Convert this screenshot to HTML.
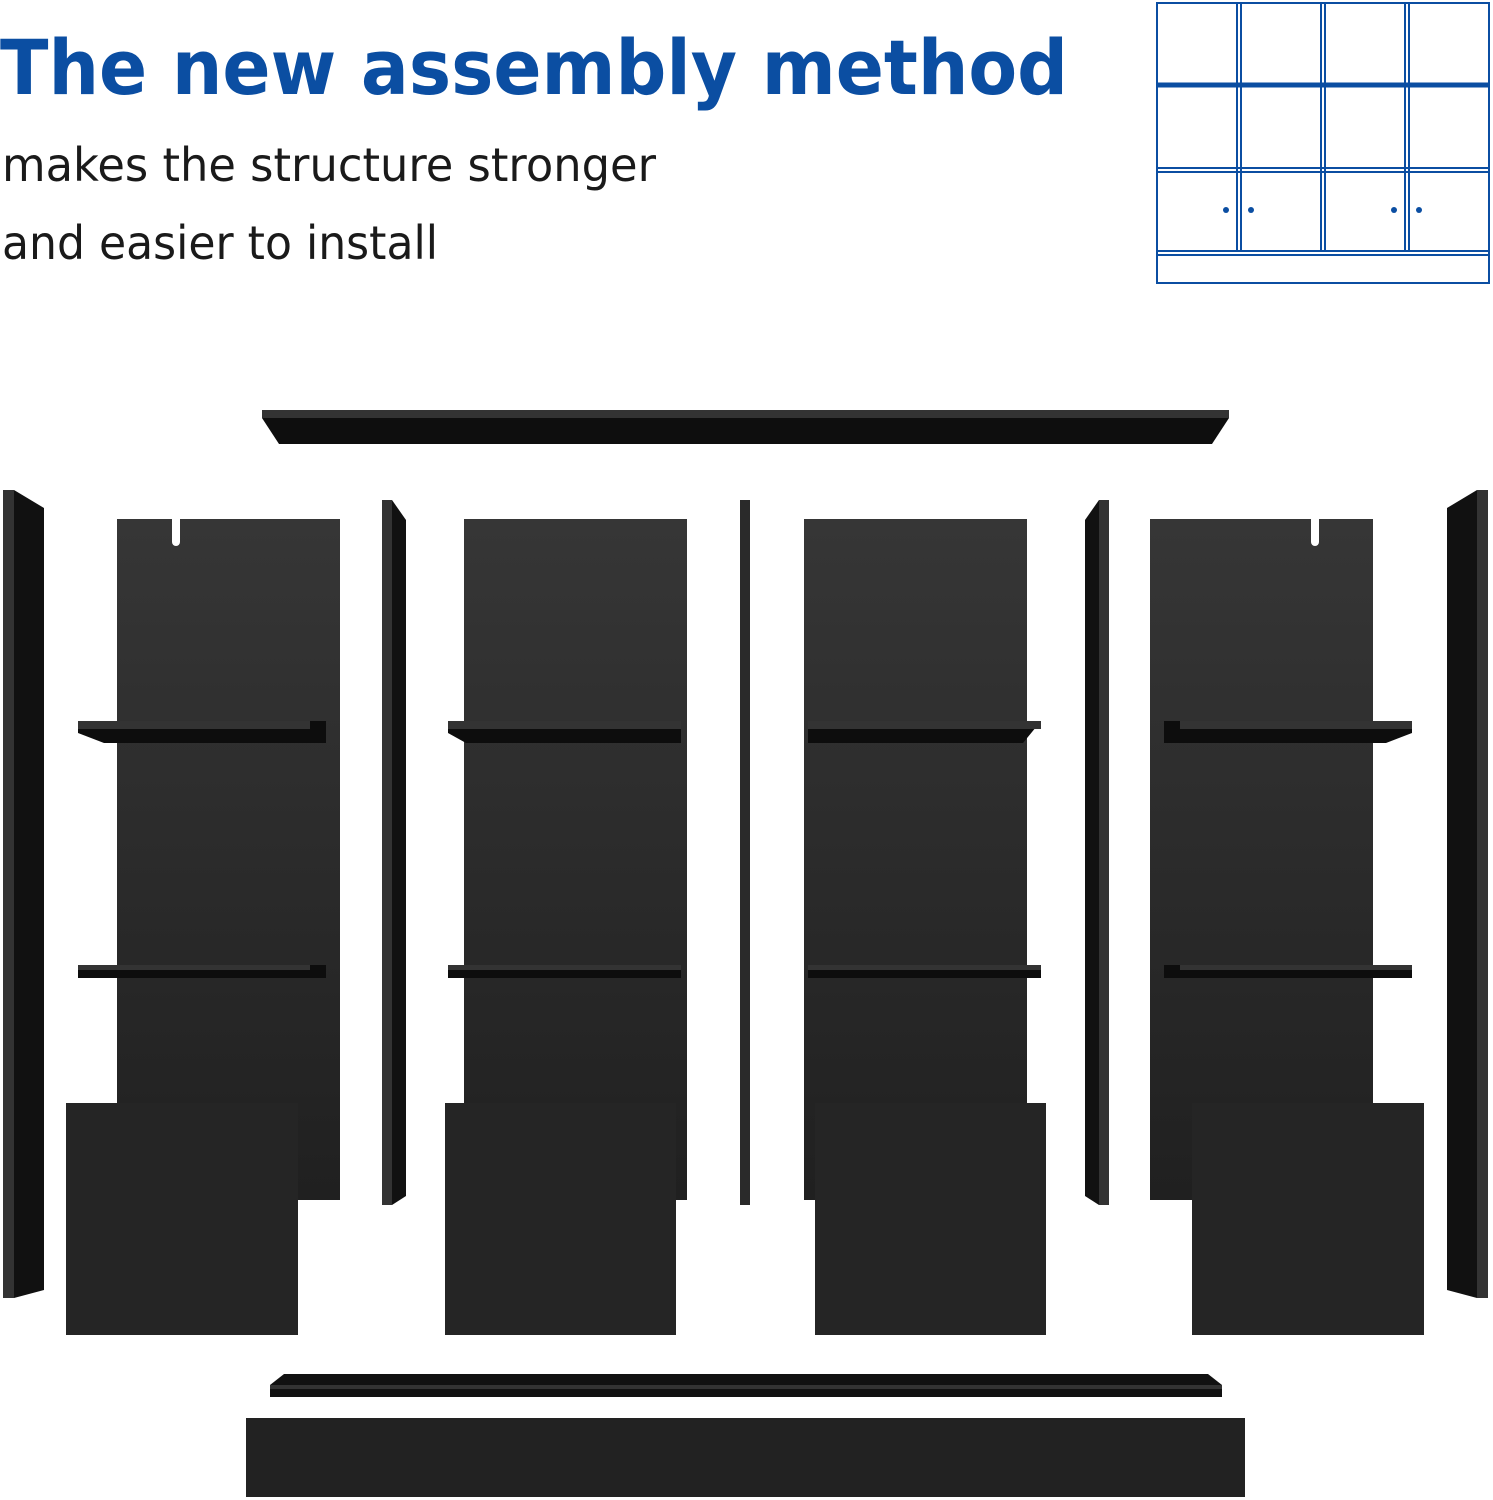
<!DOCTYPE html>
<html><head><style>
body{margin:0;background:#fff;width:1493px;height:1500px;overflow:hidden;position:relative;font-family:"Liberation Sans","DejaVu Sans",sans-serif}
</style></head><body>
<svg width="1493" height="1500" viewBox="0 0 1493 1500" xmlns="http://www.w3.org/2000/svg" style="position:absolute;left:0;top:0">
<defs>
<linearGradient id="pg" x1="0" y1="0" x2="0" y2="1"><stop offset="0" stop-color="#363636"/><stop offset="1" stop-color="#202020"/></linearGradient>
</defs>
<text x="0" y="94" font-family="DejaVu Sans, sans-serif" font-weight="bold" font-size="76" fill="#0b4ea2" textLength="1068" lengthAdjust="spacingAndGlyphs">The new assembly method</text>
<text x="2" y="181" font-family="DejaVu Sans, sans-serif" font-size="46" fill="#1a1a1a" textLength="654" lengthAdjust="spacingAndGlyphs">makes the structure stronger</text>
<text x="2" y="259" font-family="DejaVu Sans, sans-serif" font-size="46" fill="#1a1a1a" textLength="436" lengthAdjust="spacingAndGlyphs">and easier to install</text>
<g stroke="#0b4ea2" stroke-width="2" fill="none">
<rect x="1157" y="3" width="332" height="280"/>
<line x1="1237" y1="3" x2="1237" y2="251"/><line x1="1241" y1="3" x2="1241" y2="251"/>
<line x1="1321" y1="3" x2="1321" y2="251"/><line x1="1325" y1="3" x2="1325" y2="251"/>
<line x1="1405" y1="3" x2="1405" y2="251"/><line x1="1409" y1="3" x2="1409" y2="251"/>
<line x1="1157" y1="168" x2="1489" y2="168"/><line x1="1157" y1="172" x2="1489" y2="172"/>
<line x1="1157" y1="251" x2="1489" y2="251"/><line x1="1157" y1="255" x2="1489" y2="255"/>
<line x1="1157" y1="85" x2="1489" y2="85" stroke-width="5"/>
</g>
<g fill="#0b4ea2"><circle cx="1226" cy="210" r="3"/><circle cx="1251" cy="210" r="3"/><circle cx="1394" cy="210" r="3"/><circle cx="1419" cy="210" r="3"/></g>
<!-- top board -->
<polygon points="262,410 1229,410 1229,418 1212,444 279,444 262,418" fill="#0e0e0e"/>
<rect x="262" y="410" width="967" height="8" fill="#333"/>
<!-- side panels -->
<polygon points="3,490 14,490 44,508 44,1290 14,1298 3,1298" fill="#111"/><rect x="3" y="490" width="11" height="808" fill="#333"/>
<polygon points="382,500 392,500 406,520 406,1196 392,1205 382,1205" fill="#111"/><rect x="382" y="500" width="10" height="705" fill="#333"/>
<rect x="740" y="500" width="10" height="705" fill="#2a2a2a"/>
<polygon points="1109,500 1099,500 1085,520 1085,1196 1099,1205 1109,1205" fill="#111"/><rect x="1099" y="500" width="10" height="705" fill="#333"/>
<polygon points="1488,490 1477,490 1447,508 1447,1290 1477,1298 1488,1298" fill="#111"/><rect x="1477" y="490" width="11" height="808" fill="#333"/>
<!-- back panels -->
<rect x="117" y="519" width="223" height="681" fill="url(#pg)"/>
<rect x="464" y="519" width="223" height="681" fill="url(#pg)"/>
<rect x="804" y="519" width="223" height="681" fill="url(#pg)"/>
<rect x="1150" y="519" width="223" height="681" fill="url(#pg)"/>
<path d="M172,519 V542 a4,4 0 0 0 8,0 V519 Z" fill="#fff"/>
<path d="M1311,519 V542 a4,4 0 0 0 8,0 V519 Z" fill="#fff"/>
<!-- shelves -->
<g fill="#0d0d0d">
<polygon points="78,721 326,721 326,743 104,743 78,733"/>
<polygon points="448,721 681,721 681,743 466,743 448,733"/>
<polygon points="808,721 1041,721 1023,743 808,743"/>
<polygon points="1164,721 1412,721 1412,733 1386,743 1164,743"/>
<rect x="78" y="965" width="248" height="13"/>
<rect x="448" y="965" width="233" height="13"/>
<rect x="808" y="965" width="233" height="13"/>
<rect x="1164" y="965" width="248" height="13"/>
</g>
<g fill="#333">
<rect x="78" y="721" width="232" height="8"/><rect x="448" y="721" width="233" height="8"/><rect x="808" y="721" width="233" height="8"/><rect x="1180" y="721" width="232" height="8"/>
<rect x="78" y="965" width="232" height="5"/><rect x="448" y="965" width="233" height="5"/><rect x="808" y="965" width="233" height="5"/><rect x="1180" y="965" width="232" height="5"/>
</g>
<!-- doors -->
<g fill="#252525">
<rect x="66" y="1103" width="232" height="232"/>
<rect x="445" y="1103" width="231" height="232"/>
<rect x="815" y="1103" width="231" height="232"/>
<rect x="1192" y="1103" width="232" height="232"/>
</g>
<!-- bottom -->
<polygon points="270,1385 284,1374 1208,1374 1222,1385 1222,1397 270,1397" fill="#111"/>
<rect x="270" y="1385" width="952" height="4" fill="#333"/>
<rect x="246" y="1418" width="999" height="79" fill="#222"/>
</svg>
</body></html>
